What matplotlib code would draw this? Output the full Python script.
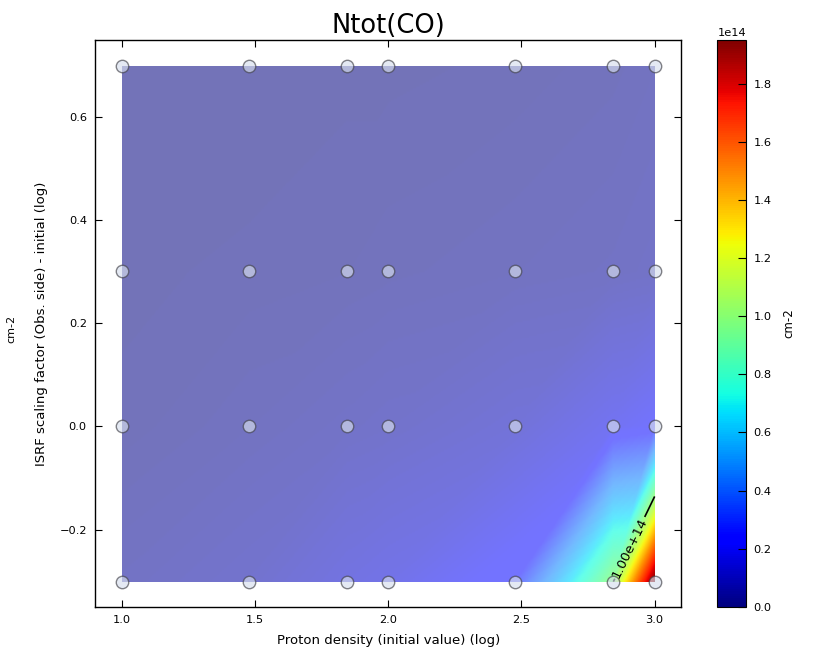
import numpy as np
import matplotlib

matplotlib.use("Agg")
import matplotlib.pyplot as plt
import matplotlib.tri as mtri
from matplotlib import cm
from matplotlib.colors import Normalize

# grid of models (log values)
log_nH = [1.0, 1.477, 1.845, 2.0, 2.477, 2.845, 3.0]
log_G0 = [-0.301, 0.0, 0.301, 0.699]

# Ntot(CO) in units of 1e14 cm-2, one row per log_G0 value
ntot_m03 = [0.04, 0.07, 0.13, 0.15, 0.25, 1.0, 1.95]
ntot_00 = [0.01, 0.03, 0.05, 0.06, 0.10, 0.18, 0.22]
ntot_03 = [0.005, 0.01, 0.015, 0.02, 0.03, 0.04, 0.05]
ntot_07 = [0.0, 0.0, 0.005, 0.005, 0.01, 0.02, 0.03]

xx, yy = np.meshgrid(log_nH, log_G0)
zz = np.array([ntot_m03, ntot_00, ntot_03, ntot_07]) * 1e14
x = xx.ravel()
y = yy.ravel()
z = zz.ravel()

# split each grid cell along its lower-left -> upper-right diagonal
nx = len(log_nH)
triangles = []
for j in range(len(log_G0) - 1):
    for i in range(nx - 1):
        bl = j * nx + i
        br = bl + 1
        tl = bl + nx
        tr = tl + 1
        triangles.append([bl, br, tr])
        triangles.append([bl, tr, tl])
tri = mtri.Triangulation(x, y, triangles)
interp = mtri.LinearTriInterpolator(tri, z)
gx, gy = np.meshgrid(np.linspace(min(log_nH), max(log_nH), 500),
                     np.linspace(min(log_G0), max(log_G0), 300))
gz = interp(gx, gy).filled(0.0)

vmax = z.max()
norm = Normalize(vmin=0.0, vmax=vmax)
cmap = cm.jet
rgba = cmap(norm(gz))
t = norm(gz)
rgba[..., 3] = 0.55 + 0.45 * np.clip((t - 0.25) / 0.5, 0, 1)

plt.rcParams["font.family"] = "DejaVu Sans"
fig = plt.figure(figsize=(8.13, 6.54), dpi=100)
ax = fig.add_axes([0.117, 0.072, 0.721, 0.867])

ax.imshow(rgba, origin="lower", aspect="auto",
          extent=[min(log_nH), max(log_nH), min(log_G0), max(log_G0)],
          interpolation="bilinear", zorder=1)

cs = ax.tricontour(tri, z, levels=[1e14], colors="k", linewidths=1.2, zorder=2)
ax.clabel(cs, fmt="%.2e", fontsize=9.5, inline=True, manual=[(2.905, -0.235)])

ax.scatter(x, y, s=80, facecolor=(0.84, 0.87, 0.93), edgecolor=(0.25, 0.25, 0.28),
           linewidth=1.0, alpha=0.65, zorder=3)

ax.set_xlim(0.9, 3.1)
ax.set_ylim(-0.35, 0.75)
ax.set_xticks([1.0, 1.5, 2.0, 2.5, 3.0])
ax.set_yticks([-0.2, 0.0, 0.2, 0.4, 0.6])
ax.tick_params(direction="in", top=True, right=True, length=5, labelsize=8.2, pad=6)
for sp in ax.spines.values():
    sp.set_linewidth(1.0)

ax.set_xlabel("Proton density (initial value) (log)", fontsize=9.5, labelpad=6)
ax.set_ylabel("ISRF scaling factor (Obs. side) - initial (log)", fontsize=9.5, labelpad=8)
ax.set_title("Ntot(CO)", fontsize=18.5, pad=5)

fig.text(0.008, 0.497, "cm-2", rotation=90, fontsize=8, va="center", ha="left")

cax = fig.add_axes([0.882, 0.072, 0.036, 0.867])
sm = cm.ScalarMappable(norm=norm, cmap=cmap)
cbar = fig.colorbar(sm, cax=cax)
cbar.set_ticks(np.arange(0, 1.9e14, 0.2e14))
cbar.ax.tick_params(direction="in", length=6, labelsize=8.2, pad=5)
cbar.ax.yaxis.get_offset_text().set_fontsize(8.2)
cbar.set_label("cm-2", fontsize=8.5, labelpad=8)

fig.savefig("out.png", dpi=100, facecolor="white")
